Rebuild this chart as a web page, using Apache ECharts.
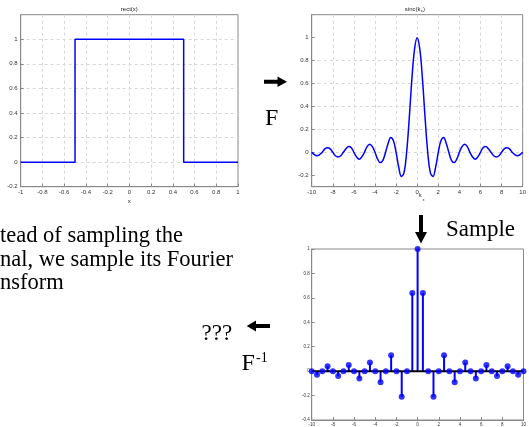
<!DOCTYPE html>
<html><head><meta charset="utf-8">
<script src="https://cdn.jsdelivr.net/npm/echarts@6/dist/echarts.min.js"></script>
<style>html,body{margin:0;padding:0;background:#fff}#c{width:529px;height:427px}</style>
</head><body><div id="c"></div>
<script>
// ---- data ----
const rectX = [-1, -0.5, -0.5, 0.5, 0.5, 1];
const rectY = [0, 0, 1, 1, 0, 0];

const sincX = [-10,-9.75,-9.5,-9.25,-9,-8.75,-8.5,-8.25,-8,-7.75,-7.5,-7.25,-7,-6.75,-6.5,-6.25,-6,-5.75,-5.5,-5.25,-5,-4.75,-4.5,-4.25,-4,-3.75,-3.5,-3.25,-3,-2.75,-2.5,-2.25,-2,-1.75,-1.5,-1.25,-1,-0.75,-0.5,-0.25,0,0.25,0.5,0.75,1,1.25,1.5,1.75,2,2.25,2.5,2.75,3,3.25,3.5,3.75,4,4.25,4.5,4.75,5,5.25,5.5,5.75,6,6.25,6.5,6.75,7,7.25,7.5,7.75,8,8.25,8.5,8.75,9,9.25,9.5,9.75,10];
const sincY = [0,-0.02,-0.03,-0.02,0,0.03,0.04,0.03,0,-0.03,-0.04,-0.03,0,0.03,0.05,0.04,0,-0.04,-0.06,-0.04,0,0.05,0.07,0.05,0,-0.06,-0.09,-0.07,0,0.08,0.13,0.10,0,-0.13,-0.21,-0.18,0,0.30,0.64,0.90,1,0.90,0.64,0.30,0,-0.18,-0.21,-0.13,0,0.10,0.13,0.08,0,-0.07,-0.09,-0.06,0,0.05,0.07,0.05,0,-0.04,-0.06,-0.04,0,0.04,0.05,0.03,0,-0.03,-0.04,-0.03,0,0.03,0.04,0.03,0,-0.02,-0.03,-0.02,0];

const sampleX = [-10,-9.5,-9,-8.5,-8,-7.5,-7,-6.5,-6,-5.5,-5,-4.5,-4,-3.5,-3,-2.5,-2,-1.5,-1,-0.5,0,0.5,1,1.5,2,2.5,3,3.5,4,4.5,5,5.5,6,6.5,7,7.5,8,8.5,9,9.5,10];
const sampleY = [0,-0.03,0,0.04,0,-0.04,0,0.05,0,-0.06,0,0.07,0,-0.09,0,0.13,0,-0.21,0,0.64,1,0.64,0,-0.21,0,0.13,0,-0.09,0,0.07,0,-0.06,0,0.05,0,-0.04,0,0.04,0,-0.03,0];

const baseX = [-10, 10];
const baseY = [0, 0];

const sincYTicks = [-0.2, 0, 0.2, 0.4, 0.6, 0.8, 1];

const titles = ['rect(x)', 'sinc(k', 'x', ')'];
const paraLines = ['tead of sampling the', 'nal, we sample its Fourier', 'nsform'];

// ---- chart ----
const chart = echarts.init(document.getElementById('c'), null, {renderer: 'canvas'});
const SANS = '"Liberation Sans", Arial, sans-serif';
const SERIF = '"Liberation Serif", "Times New Roman", serif';
const gridLine = {show: true, showMinLine: false, showMaxLine: false, lineStyle: {color: '#d6d6d6', type: [3, 3], width: 1}};
const tick = {show: true, inside: true, length: 3, lineStyle: {color: '#888'}};
const axLine = {show: true, onZero: false, lineStyle: {color: '#888', width: 1}};
const lab = {color: '#333', fontSize: 6, fontFamily: SANS, margin: 3};
const lab3 = {color: '#333', fontSize: 4.5, fontFamily: SANS, margin: 2};
const pair = (xs, ys) => xs.map((x, i) => [x, ys[i]]);

chart.setOption({
  animation: false,
  grid: [
    {left: 20.7, right: 291, top: 14.7, bottom: 240.3, show: true, borderColor: '#888', borderWidth: 1},
    {left: 311.7, right: 1, top: 14.7, bottom: 240.3, show: true, borderColor: '#888', borderWidth: 1},
    {left: 311.7, right: 1, top: 249, bottom: 6, show: true, borderColor: '#888', borderWidth: 1}
  ],
  xAxis: [
    {gridIndex: 0, type: 'value', min: -1, max: 1, interval: 0.2, axisLine: axLine, axisTick: tick, splitLine: gridLine, axisLabel: lab,
     name: 'x', nameLocation: 'middle', nameGap: 12, nameTextStyle: {fontSize: 6, fontFamily: SANS, color: '#333'}},
    {gridIndex: 1, type: 'value', min: -10, max: 10, interval: 2, axisLine: axLine, axisTick: tick, splitLine: gridLine, axisLabel: lab},
    {gridIndex: 2, type: 'value', min: -10, max: 10, interval: 2, axisLine: axLine, axisTick: tick, splitLine: {show: false}, axisLabel: lab3}
  ],
  yAxis: [
    {gridIndex: 0, type: 'value', min: -0.2, max: 1.2, interval: 0.2, axisLine: axLine, axisTick: tick, splitLine: gridLine,
     axisLabel: Object.assign({}, lab, {showMaxLabel: false})},
    {gridIndex: 1, type: 'value', min: -0.3, max: 1.2, axisLine: axLine,
     axisTick: Object.assign({}, tick, {customValues: sincYTicks}), splitLine: gridLine,
     axisLabel: Object.assign({}, lab, {customValues: sincYTicks})},
    {gridIndex: 2, type: 'value', min: -0.4, max: 1, interval: 0.2, axisLine: axLine, axisTick: tick, splitLine: {show: false}, axisLabel: lab3}
  ],
  series: [
    {type: 'line', xAxisIndex: 0, yAxisIndex: 0, data: pair(rectX, rectY), symbol: 'none', lineStyle: {color: '#0000ff', width: 1.5}, z: 3},
    {type: 'line', xAxisIndex: 1, yAxisIndex: 1, data: pair(sincX, sincY), symbol: 'none', smooth: 0.4, lineStyle: {color: '#0000ff', width: 1.5}, z: 3},
    {type: 'bar', xAxisIndex: 2, yAxisIndex: 2, data: pair(sampleX, sampleY), barWidth: 2, itemStyle: {color: '#0000ff'}, z: 2},
    {type: 'line', xAxisIndex: 2, yAxisIndex: 2, data: pair(baseX, baseY), symbol: 'none', lineStyle: {color: '#000', width: 2}, z: 3},
    {type: 'scatter', xAxisIndex: 2, yAxisIndex: 2, data: pair(sampleX, sampleY), symbol: 'circle', symbolSize: 6, itemStyle: {color: '#0000ff'}, z: 4}
  ],
  graphic: [
    {type: 'text', style: {text: titles[0], x: 129.3, y: 9, font: '6px ' + SANS, fill: '#222', textAlign: 'center', textVerticalAlign: 'middle'}},
    {type: 'text', style: {text: titles[1], x: 420.5, y: 9, font: '6px ' + SANS, fill: '#222', textAlign: 'right', textVerticalAlign: 'middle'}},
    {type: 'text', style: {text: titles[2], x: 420.7, y: 11, font: '4px ' + SANS, fill: '#222', textAlign: 'left', textVerticalAlign: 'middle'}},
    {type: 'text', style: {text: titles[3], x: 423, y: 9, font: '6px ' + SANS, fill: '#222', textAlign: 'left', textVerticalAlign: 'middle'}},
    {type: 'text', style: {text: 'k', x: 420.3, y: 195.5, font: '6px ' + SANS, fill: '#333', textAlign: 'center', textVerticalAlign: 'middle'}},
    {type: 'text', style: {text: 'x', x: 422.5, y: 199.5, font: '4px ' + SANS, fill: '#333', textAlign: 'left', textVerticalAlign: 'middle'}},
    // right arrow
    {type: 'polygon', shape: {points: [[264,79.7],[277.5,79.7],[277.5,76.5],[287,81.7],[277.5,87],[277.5,83.7],[264,83.7]]}, style: {fill: '#000'}},
    {type: 'text', style: {text: 'F', x: 265, y: 119, font: '24px ' + SERIF, fill: '#000', textAlign: 'left', textVerticalAlign: 'middle'}},
    // down arrow
    {type: 'polygon', shape: {points: [[419,215],[423,215],[423,232],[427,232],[421,243.5],[415,232],[419,232]]}, style: {fill: '#000'}},
    {type: 'text', style: {text: 'Sample', x: 446, y: 229.5, font: '23px ' + SERIF, fill: '#000', textAlign: 'left', textVerticalAlign: 'middle'}},
    // paragraph
    {type: 'text', style: {text: paraLines[0], x: 0, y: 236.5, font: '22.5px ' + SERIF, fill: '#000', textAlign: 'left', textVerticalAlign: 'middle'}},
    {type: 'text', style: {text: paraLines[1], x: 0, y: 259.8, font: '22.5px ' + SERIF, fill: '#000', textAlign: 'left', textVerticalAlign: 'middle'}},
    {type: 'text', style: {text: paraLines[2], x: 0, y: 283, font: '22.5px ' + SERIF, fill: '#000', textAlign: 'left', textVerticalAlign: 'middle'}},
    // ??? and left arrow
    {type: 'text', style: {text: '???', x: 201.5, y: 334, font: '23px ' + SERIF, fill: '#000', textAlign: 'left', textVerticalAlign: 'middle'}},
    {type: 'polygon', shape: {points: [[246.7,326],[256,320.5],[256,324],[270,324],[270,328],[256,328],[256,331.5]]}, style: {fill: '#000'}},
    {type: 'text', style: {text: 'F', x: 241.5, y: 363.5, font: '24px ' + SERIF, fill: '#000', textAlign: 'left', textVerticalAlign: 'middle'}},
    {type: 'text', style: {text: '-1', x: 256, y: 358, font: '14px ' + SERIF, fill: '#000', textAlign: 'left', textVerticalAlign: 'middle'}}
  ]
});
</script>
</body></html>
